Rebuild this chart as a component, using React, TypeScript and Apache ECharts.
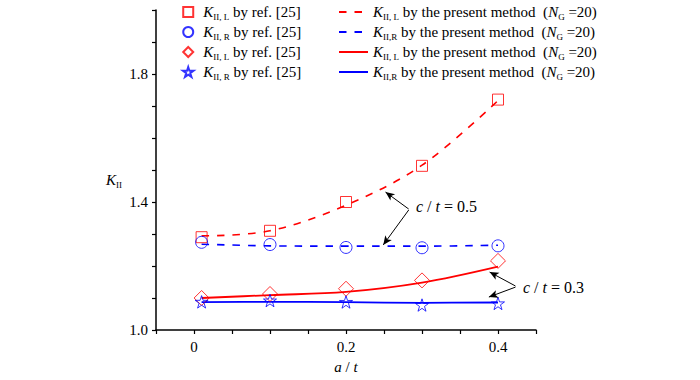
import React, { useEffect, useRef } from 'react';
import * as echarts from 'echarts';

const xValues = [0.01, 0.1, 0.2, 0.3, 0.4];
const refLeft05 = [1.29, 1.31, 1.40, 1.513, 1.72];
const refRight05 = [1.274, 1.267, 1.258, 1.257, 1.263];
const refLeft03 = [1.10, 1.1125, 1.129, 1.155, 1.216];
const refRight03 = [1.088, 1.092, 1.0875, 1.078, 1.083];
const fitLeft05 = [1.294, 1.31, 1.39, 1.515, 1.717];
const fitRight05 = [1.268, 1.263, 1.262, 1.262, 1.265];
const fitLeft03 = [1.10, 1.109, 1.119, 1.148, 1.198];
const fitRight03 = [1.087, 1.088, 1.087, 1.085, 1.086];
const yTickLabels = ['1.0', '1.4', '1.8'];
const xTickLabels = ['0', '0.2', '0.4'];

// annotation arrows [fromX, fromY, toX, toY] in data coordinates
const arrows = [
  [0.2825, 1.378, 0.252, 1.431],
  [0.2825, 1.375, 0.249, 1.266],
  [0.423, 1.1375, 0.389, 1.181],
  [0.423, 1.134, 0.388, 1.103],
];

const FONT = 'Liberation Serif';
const RED = '#ff0000';
const BLUE = '#0000ff';
const STAR = 'path://M50,2 L61,36 L97,36 L68,57 L79,92 L50,71 L21,92 L32,57 L3,36 L39,36 Z';
const SQUARE = 'path://M0,0 L10,0 L10,10 L0,10 Z';
const DIAMOND = 'path://M5,0 L10,5 L5,10 L0,5 Z';
const SP = '\u00a0';

const legendNames: Record<string, string> = {
  refL05: `{k|K}{s|II, L}{t|${SP}by ref. [25]}`,
  refR05: `{k|K}{s|II, R}{t|${SP}by ref. [25]}`,
  refL03: `{k|K}{s|II, L}{t|${SP}by ref. [25]}`,
  refR03: `{k|K}{s|II, R}{t|${SP}by ref. [25]}`,
  fitL05: `{k|K}{s|II, L}{t|${SP}by the present method${SP}${SP}(}{k|N}{s|G}{t|${SP}=20)}`,
  fitR05: `{k|K}{s|II,R}{t|${SP}by the present method${SP}${SP}(}{k|N}{s|G}{t|${SP}=20)}`,
  fitL03: `{k|K}{s|II, L}{t|${SP}by the present method${SP}${SP}(}{k|N}{s|G}{t|${SP}=20)}`,
  fitR03: `{k|K}{s|II,R}{t|${SP}by the present method${SP}${SP}(}{k|N}{s|G}{t|${SP}=20)}`,
};

const rich = {
  k: { fontFamily: FONT, fontSize: 15, fontStyle: 'italic', color: '#000', lineHeight: 18, verticalAlign: 'middle' },
  s: { fontFamily: FONT, fontSize: 9, color: '#000', lineHeight: 10, verticalAlign: 'bottom' },
  t: { fontFamily: FONT, fontSize: 15, color: '#000', lineHeight: 18, verticalAlign: 'middle' },
  i: { fontFamily: FONT, fontSize: 15, fontStyle: 'italic', color: '#000', lineHeight: 18 },
  ai: { fontFamily: FONT, fontSize: 16, fontStyle: 'italic', color: '#000', lineHeight: 18 },
  at: { fontFamily: FONT, fontSize: 16, color: '#000', lineHeight: 18 },
};

const pairs = (ys: number[]) => xValues.map((x, i) => [x, ys[i]]);

export default function App() {
  const ref = useRef<HTMLDivElement>(null);
  useEffect(() => {
    if (!ref.current) return;
    const chart = echarts.init(ref.current, undefined, { renderer: 'svg' });
    const scatter = (name: string, data: number[], symbol: string, size: number, color: string) => ({
      name,
      type: 'scatter',
      data: pairs(data),
      symbol,
      symbolSize: size,
      symbolKeepAspect: true,
      itemStyle: { color: 'transparent', borderColor: color, borderWidth: 1 },
      z: 3,
    });
    const line = (name: string, data: number[], color: string, dashed: boolean, extra: any = {}) => ({
      name,
      type: 'line',
      data: pairs(data),
      smooth: 0.35,
      symbol: 'none',
      lineStyle: { color, width: dashed ? 1.6 : 1.8, type: dashed ? [7.5, 8] : 'solid' },
      itemStyle: { color },
      z: 2,
      ...extra,
    });
    const option: any = {
      animation: false,
      textStyle: { fontFamily: FONT },
      grid: { left: 156, right: 164, top: 10, bottom: 50 },
      legend: [
        {
          orient: 'vertical',
          left: 182,
          top: 3,
          padding: 0,
          itemWidth: 20,
          itemHeight: 10,
          itemGap: 2,
          data: ['refL05', 'refR05', 'refL03', 'refR03'],
          formatter: (n: string) => legendNames[n],
          textStyle: { rich, lineHeight: 18 },
        },
        {
          orient: 'vertical',
          left: 338,
          top: 3,
          padding: 0,
          itemWidth: 29,
          itemHeight: 13,
          itemGap: 2,
          itemStyle: { opacity: 0 },
          data: ['fitL05', 'fitR05', 'fitL03', 'fitR03'],
          formatter: (n: string) => legendNames[n],
          textStyle: { rich, lineHeight: 18 },
        },
      ],
      xAxis: {
        type: 'value',
        min: -0.05,
        max: 0.45,
        interval: 0.05,
        name: '{i|a}{t| / }{i|t}',
        nameLocation: 'middle',
        nameGap: 28,
        nameTextStyle: { rich },
        axisLine: { onZero: false, lineStyle: { color: '#000', width: 1.5 } },
        axisTick: { show: true, length: 4, lineStyle: { color: '#000', width: 1.2 } },
        axisLabel: {
          fontFamily: FONT,
          fontSize: 15,
          color: '#000',
          margin: 9,
          formatter: (v: number) => {
            const r = Math.round(v * 100) / 100;
            const s = r === 0 ? '0' : String(r);
            return xTickLabels.includes(s) ? s : '';
          },
        },
        splitLine: { show: false },
      },
      yAxis: {
        type: 'value',
        min: 1.0,
        max: 2.0,
        interval: 0.1,
        name: '{k|K}{s|II}',
        nameLocation: 'middle',
        nameRotate: 0,
        nameGap: 34,
        nameTextStyle: { rich, padding: [20, 0, 0, 0] },
        axisLine: { show: true, onZero: false, lineStyle: { color: '#000', width: 1.5 } },
        axisTick: { show: true, length: 4, lineStyle: { color: '#000', width: 1.2 } },
        axisLabel: {
          fontFamily: FONT,
          fontSize: 15,
          color: '#000',
          margin: 8,
          formatter: (v: number) => {
            const s = (Math.round(v * 10) / 10).toFixed(1);
            return yTickLabels.includes(s) ? s : '';
          },
        },
        splitLine: { show: false },
      },
      series: [
        scatter('refL05', refLeft05, SQUARE, 11, RED),
        scatter('refR05', refRight05, 'circle', 12, BLUE),
        scatter('refL03', refLeft03, DIAMOND, 15, RED),
        scatter('refR03', refRight03, STAR, 13, BLUE),
        line('fitL05', fitLeft05, RED, true, {
          markLine: {
            silent: true,
            symbol: ['none', 'arrow'],
            symbolSize: [6, 9],
            lineStyle: { color: '#000', width: 1, type: 'solid' },
            label: { show: false },
            data: arrows.map((a) => [{ coord: [a[0], a[1]] }, { coord: [a[2], a[3]] }]),
          },
        }),
        line('fitR05', fitRight05, BLUE, true),
        line('fitL03', fitLeft03, RED, false),
        line('fitR03', fitRight03, BLUE, false),
      ],
      graphic: [
        {
          type: 'text',
          left: 416,
          top: 198,
          style: { text: `{ai|c}{at|${SP}/${SP}}{ai|t}{at|${SP}=${SP}0.5}`, rich },
        },
        {
          type: 'text',
          left: 523,
          top: 279,
          style: { text: `{ai|c}{at|${SP}/${SP}}{ai|t}{at|${SP}=${SP}0.3}`, rich },
        },
      ],
    };
    chart.setOption(option);
    return () => chart.dispose();
  }, []);
  return <div ref={ref} style={{ position: 'absolute', left: 0, top: 0, width: 700, height: 380 }} />;
}
